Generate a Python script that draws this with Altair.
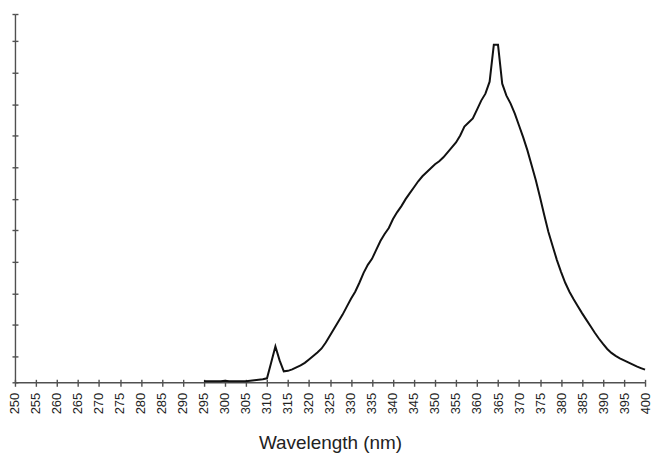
import altair as alt
import pandas as pd

wavelength = list(range(295, 401))
intensity = [
    1, 1, 1, 1, 1, 1.5, 1, 1, 1, 1,            # 295-304
    1, 1.5, 2, 2.5, 3, 4, 20, 36, 22, 11,      # 305-314
    11.5, 13, 15, 17, 19.5, 23, 26.5, 30, 34, 40,  # 315-324
    47, 54, 61, 68, 76, 84, 91, 100, 110, 118,  # 325-334
    124, 133, 142, 149, 155, 164, 171, 177, 184, 190,  # 335-344
    196, 202, 207, 211, 215, 219, 222, 226, 231, 236,  # 345-354
    241, 248, 257, 261, 265, 274, 283, 290, 302, 339,  # 355-364
    339, 300, 288, 280, 270, 258, 246, 233, 218, 203,  # 365-374
    186, 168, 151, 137, 123, 111, 100, 91, 83.5, 76.5,  # 375-384
    69.5, 63, 56.5, 50, 44, 38.5, 33.5, 29.5, 26.5, 24,  # 385-394
    22, 20, 18, 16, 14.3, 12.7,                          # 395-400
]
x_ticks = list(range(250, 401, 5))
y_ticks = [0, 26, 57.7, 89.3, 121, 152.7, 184.3, 216, 247.7, 279.3, 311, 342.7, 370]

df = pd.DataFrame({"wavelength": wavelength, "intensity": intensity})

W, H = 633, 370
AX = "#505050"
FONT = "Liberation Sans"

x_main = alt.X(
    "wavelength:Q",
    scale=alt.Scale(domain=[250, 400], nice=False, zero=False),
    axis=alt.Axis(
        values=x_ticks, labelAngle=270, labelFontSize=13, labelFont=FONT,
        labelColor="#222222", labelPadding=6, tickSize=4, tickColor=AX,
        domainColor=AX, domainWidth=1.4, tickWidth=1.4, grid=False,
        title="Wavelength (nm)", titleFont=FONT, titleFontSize=19,
        titleFontWeight="normal", titleColor="#222222",
        titleBaseline="alphabetic", titleY=67, labelFlush=False,
        labelOverlap=False,
    ),
)
y_main = alt.Y(
    "intensity:Q",
    scale=alt.Scale(domain=[0, 370], nice=False),
    axis=alt.Axis(
        values=y_ticks, labels=False, tickSize=3, tickColor=AX, tickWidth=1.4,
        domainColor=AX, domainWidth=1.4, grid=False, title=None,
    ),
)

line = alt.Chart(df).mark_line(color="#111111", strokeWidth=2).encode(x=x_main, y=y_main)

inner = alt.Chart(df).mark_line(opacity=0).encode(
    x=alt.X("wavelength:Q", scale=alt.Scale(domain=[250, 400], nice=False, zero=False),
            axis=alt.Axis(orient="top", offset=-H, values=x_ticks, labels=False,
                          domain=False, tickSize=3, tickColor=AX, tickWidth=1.4,
                          grid=False, title=None)),
    y=alt.Y("intensity:Q", scale=alt.Scale(domain=[0, 370], nice=False),
            axis=alt.Axis(orient="right", offset=-W, values=y_ticks, labels=False,
                          domain=False, tickSize=3, tickColor=AX, tickWidth=1.4,
                          grid=False, title=None)),
)

chart = (
    alt.layer(line, inner)
    .resolve_axis(x="independent", y="independent")
    .properties(
        width=W, height=H,
        autosize=alt.AutoSizeParams(type="none"),
        padding={"left": 7, "top": 5, "right": 8, "bottom": 72},
    )
    .configure_view(stroke=None)
)

chart.save("out.html", embed_options={"renderer": "svg", "actions": False})
